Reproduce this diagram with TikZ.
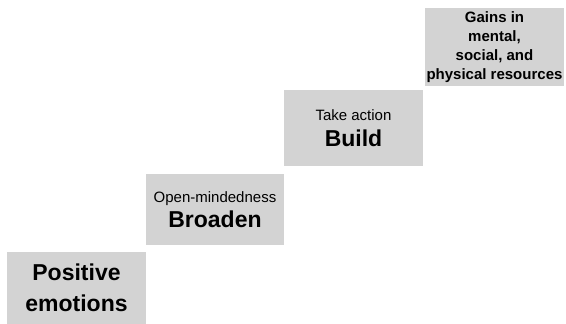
\documentclass[tikz,border=0pt]{standalone}
\usepackage{fontspec}
\setmainfont{Liberation Sans}
\definecolor{stepgray}{HTML}{D3D3D3}
\tikzset{
	stepbox/.style={fill=stepgray, draw=none, align=center, inner sep=0pt},
	small/.style={font=\fontsize{15}{19}\selectfont},
	big/.style={font=\fontsize{23}{31}\selectfont\bfseries}
}
\newcommand{\bigword}[1]{{\fontsize{23}{28}\selectfont\bfseries #1}}
\begin{document}
\begin{tikzpicture}[x=1pt, y=-1pt]
		\useasboundingbox (0, 0) rectangle (566, 324);

		\node[stepbox, big, minimum width=139pt, minimum height=72pt] (positive) at (76.5, 288) {Positive\\emotions};
		\node[stepbox, small, minimum width=138pt, minimum height=71pt] (broaden) at (215, 209.5) {Open-mindedness\\[4pt]\bigword{Broaden}};
		\node[stepbox, small, minimum width=139pt, minimum height=76pt] (build) at (353.5, 128) {Take action\\[7pt]\bigword{Build}};
		\node[stepbox, small, font=\fontsize{15}{19}\selectfont\bfseries, minimum width=139pt, minimum height=78pt] (gains) at (494.5, 47) {Gains in\\mental,\\social, and\\physical resources};
	\end{tikzpicture}
\end{document}
